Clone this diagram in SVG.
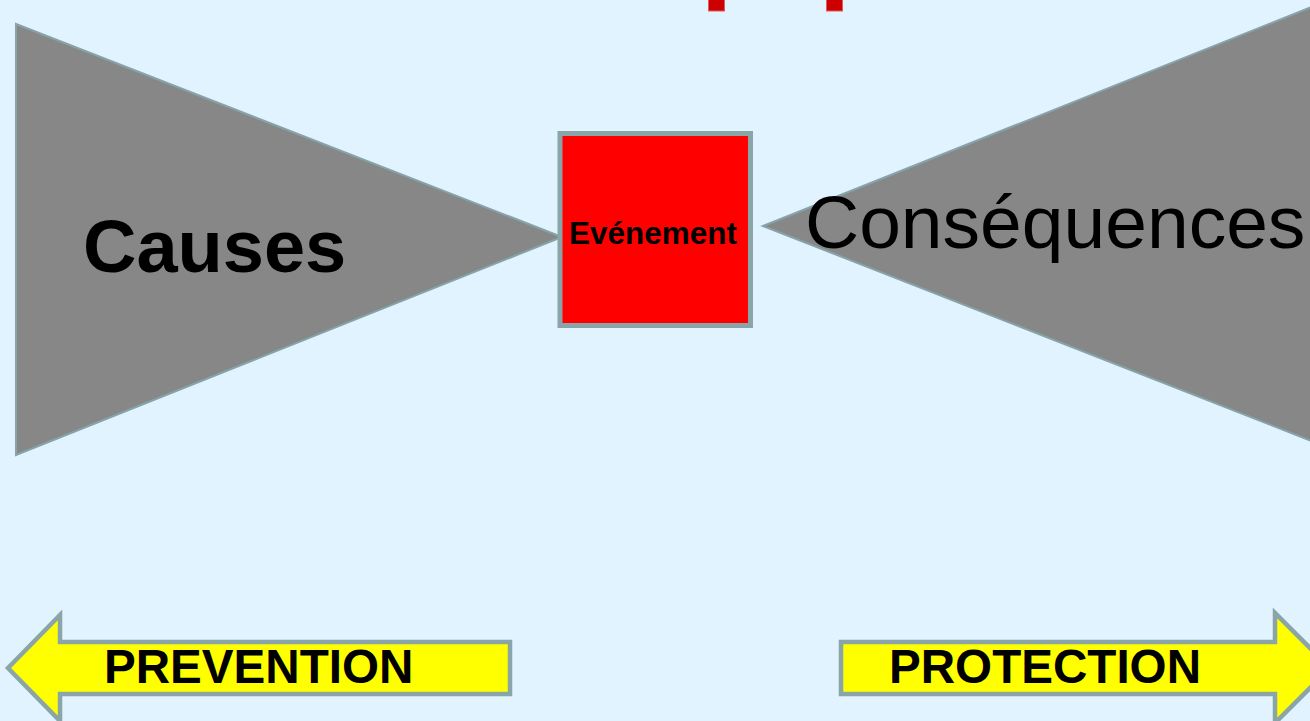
<svg xmlns="http://www.w3.org/2000/svg" width="1310" height="721" viewBox="0 0 1310 721">
<style>
.tri{fill:#878787;stroke:#86a4a8;stroke-width:2;stroke-linejoin:miter}
.arrow{fill:#ffff00;stroke:#8aa5a8;stroke-width:4.5;stroke-linejoin:miter}
.lbl{font-family:"Liberation Sans",Arial,sans-serif;fill:#000}
.b{font-weight:bold}
.mark{fill:#cc0000;stroke:#e25a5a;stroke-width:1}
</style>
<rect x="0" y="0" width="1310" height="721" fill="#e0f3fe"/>
<g id="top-marks">
<rect class="mark" x="708.5" y="-2" width="16" height="13"/>
<rect class="mark" x="826.5" y="-2" width="16" height="13"/>
</g>
<g id="causes">
<polygon class="tri" points="16,24 562,237 16,455"/>
<text class="lbl b" x="83" y="272" font-size="74">Causes</text>
</g>
<g id="consequences">
<polygon class="tri" points="763,226 1314,6 1314,442"/>
<text class="lbl" x="805" y="248" font-size="75">Conséquences</text>
</g>
<g id="evenement">
<rect x="560" y="133.5" width="190.5" height="192" fill="#ff0000" stroke="#8aa5a8" stroke-width="5"/>
<text class="lbl b" x="653" y="244" font-size="31.5" text-anchor="middle">Evénement</text>
</g>
<g id="prevention">
<polygon class="arrow" points="8,668 60,615 60,642 510,642 510,694 60,694 60,721"/>
<text class="lbl b" x="104" y="683" font-size="47.6">PREVENTION</text>
</g>
<g id="protection">
<polygon class="arrow" points="841,642 1275,642 1275,613 1330,668 1275,723 1275,694 841,694"/>
<text class="lbl b" x="889" y="683" font-size="47.6">PROTECTION</text>
</g>
</svg>
